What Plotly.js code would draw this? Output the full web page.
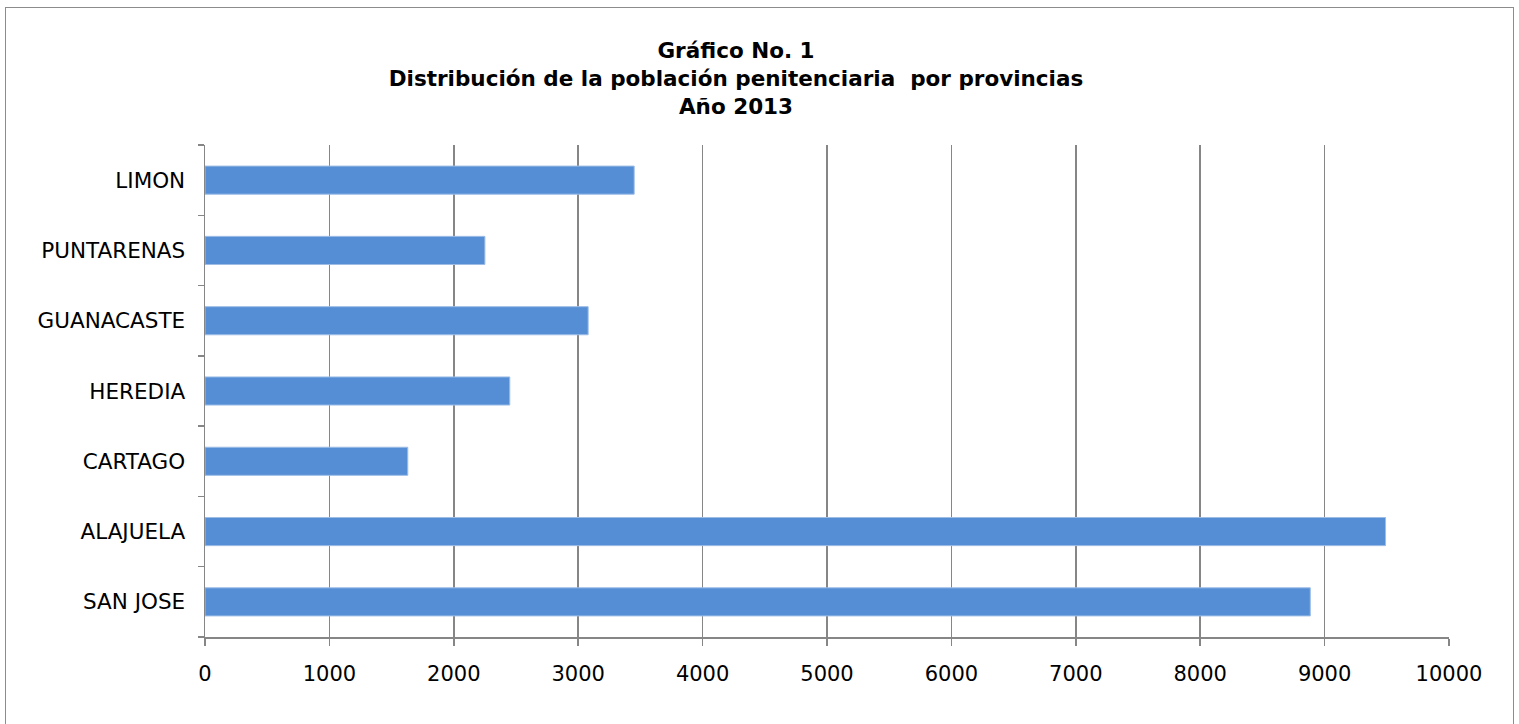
<!DOCTYPE html>
<html>
<head>
<meta charset="utf-8">
<script src="https://cdn.plot.ly/plotly-3.0.1.min.js"></script>
<style>
  html, body { margin: 0; padding: 0; background: #fff; }
  #chart { width: 1519px; height: 724px; }
  #frame { position: absolute; left: 5px; top: 7px; width: 1509px; height: 720px;
           border: 1px solid #8c8c8c; pointer-events: none; box-sizing: border-box; }
</style>
</head>
<body>
<div id="chart"></div>
<div id="frame"></div>
<script>
const provincias = ["SAN JOSE", "ALAJUELA", "CARTAGO", "HEREDIA", "GUANACASTE", "PUNTARENAS", "LIMON"];
const poblacion = [8885, 9490, 1630, 2450, 3080, 2250, 3450];
const xTicks = [0, 1000, 2000, 3000, 4000, 5000, 6000, 7000, 8000, 9000, 10000];
const titulo = "Gráfico No. 1<br>Distribución de la población penitenciaria&nbsp; por provincias<br>Año 2013";

const font = "DejaVu Sans, Verdana, sans-serif";
const gray = "#868686";

Plotly.newPlot("chart", [{
  type: "bar",
  orientation: "h",
  y: provincias,
  x: poblacion,
  marker: { color: "#558ED5", line: { color: "#9DBDE6", width: 1 } },
  hoverinfo: "x+y"
}], {
  width: 1519, height: 724,
  margin: { l: 205, r: 70, t: 145, b: 87 },
  paper_bgcolor: "#fff", plot_bgcolor: "#fff",
  bargap: 0.6,
  showlegend: false,
  font: { family: font, size: 21, color: "#000" },
  title: {
    text: titulo,
    font: { family: font, size: 21.5, color: "#000", weight: "bold" },
    xref: "container", x: 736 / 1519, xanchor: "center",
    yref: "container", y: 1 - 58 / 724, yanchor: "middle"
  },
  xaxis: {
    range: [0, 10000],
    tickvals: xTicks,
    ticktext: xTicks.map(String),
    showgrid: true, gridcolor: gray, gridwidth: 1.5,
    zeroline: false,
    showline: true, linecolor: gray, linewidth: 1.5,
    ticks: "outside", ticklen: 7, tickcolor: gray, tickwidth: 1.5,
    ticklabelstandoff: 10,
    tickfont: { family: font, size: 21, color: "#000" },
    fixedrange: true
  },
  yaxis: {
    type: "category",
    categoryorder: "array", categoryarray: provincias,
    tickson: "boundaries",
    showgrid: false,
    showline: true, linecolor: gray, linewidth: 1.5,
    ticks: "outside", ticklen: 6, tickcolor: gray, tickwidth: 1.5,
    ticklabelstandoff: 14,
    tickfont: { family: font, size: 21.5, color: "#000" },
    fixedrange: true
  }
}, { displayModeBar: false, staticPlot: true });
</script>
</body>
</html>
